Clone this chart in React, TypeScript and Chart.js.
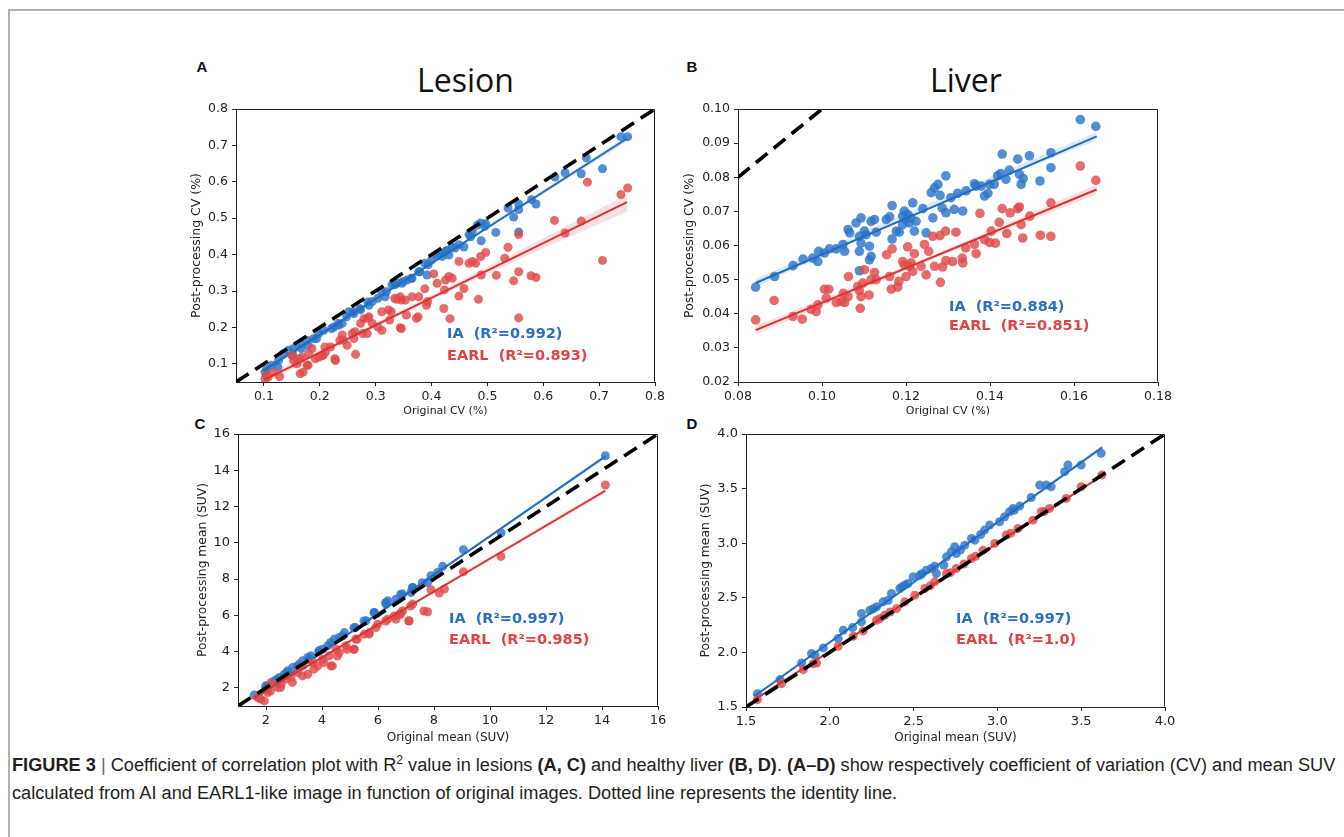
import React, { useEffect, useLayoutEffect, useRef } from 'react';
import { Chart, registerables } from 'chart.js';

Chart.register(...registerables);

type Pt = [number, number];

// ---------------- Panel A : Lesion CV ----------------
const lesionCvIA: Pt[] = [
  [0.739, 0.724], [0.751, 0.724], [0.706, 0.636], [0.677, 0.666], [0.668, 0.622], [0.639, 0.625],
  [0.621, 0.613], [0.587, 0.539], [0.579, 0.551], [0.556, 0.524], [0.556, 0.539], [0.556, 0.462],
  [0.547, 0.503], [0.537, 0.528], [0.515, 0.461], [0.495, 0.478], [0.488, 0.487], [0.489, 0.438],
  [0.473, 0.464], [0.467, 0.455], [0.458, 0.421], [0.449, 0.427], [0.437, 0.421], [0.425, 0.409],
  [0.419, 0.395], [0.431, 0.399], [0.413, 0.404], [0.392, 0.344], [0.388, 0.376], [0.377, 0.353],
  [0.365, 0.335], [0.356, 0.330], [0.347, 0.321], [0.338, 0.321], [0.329, 0.317], [0.317, 0.284],
  [0.311, 0.298], [0.294, 0.271], [0.288, 0.261], [0.273, 0.248], [0.261, 0.238], [0.252, 0.243],
  [0.240, 0.211], [0.234, 0.206], [0.225, 0.201], [0.207, 0.192], [0.198, 0.183], [0.189, 0.169],
  [0.177, 0.165], [0.165, 0.155], [0.153, 0.142], [0.144, 0.137], [0.135, 0.128], [0.126, 0.109],
  [0.114, 0.096], [0.105, 0.086], [0.102, 0.077], [0.125, 0.091], [0.152, 0.123], [0.167, 0.142],
  [0.179, 0.151], [0.194, 0.169], [0.221, 0.197], [0.233, 0.211], [0.248, 0.229], [0.260, 0.243],
  [0.272, 0.252], [0.286, 0.270], [0.304, 0.280], [0.319, 0.298], [0.334, 0.317], [0.349, 0.326],
  [0.364, 0.335], [0.379, 0.353], [0.394, 0.372], [0.400, 0.386], [0.428, 0.412], [0.442, 0.418],
  [0.470, 0.449], [0.482, 0.481], [0.497, 0.485], [0.410, 0.398],
];
const lesionCvEARL: Pt[] = [
  [0.751, 0.583], [0.739, 0.565], [0.706, 0.384], [0.679, 0.599], [0.668, 0.492], [0.639, 0.459],
  [0.620, 0.494], [0.587, 0.337], [0.578, 0.342], [0.556, 0.455], [0.556, 0.353], [0.556, 0.226],
  [0.547, 0.328], [0.537, 0.420], [0.531, 0.390], [0.516, 0.343], [0.497, 0.406], [0.489, 0.344],
  [0.484, 0.277], [0.488, 0.395], [0.479, 0.376], [0.473, 0.381], [0.467, 0.376], [0.449, 0.381],
  [0.449, 0.286], [0.458, 0.307], [0.437, 0.335], [0.431, 0.340], [0.425, 0.330], [0.423, 0.303],
  [0.422, 0.252], [0.433, 0.224], [0.410, 0.321], [0.404, 0.347], [0.393, 0.271], [0.388, 0.306],
  [0.376, 0.229], [0.377, 0.284], [0.365, 0.284], [0.353, 0.275], [0.344, 0.284], [0.338, 0.277],
  [0.344, 0.199], [0.323, 0.248], [0.311, 0.243], [0.311, 0.192], [0.294, 0.211], [0.288, 0.229],
  [0.279, 0.224], [0.273, 0.211], [0.285, 0.183], [0.264, 0.126], [0.261, 0.169], [0.258, 0.183],
  [0.249, 0.151], [0.240, 0.179], [0.236, 0.165], [0.228, 0.109], [0.219, 0.146], [0.210, 0.132],
  [0.204, 0.123], [0.198, 0.118], [0.192, 0.114], [0.186, 0.142], [0.180, 0.128], [0.177, 0.096],
  [0.165, 0.073], [0.159, 0.100], [0.153, 0.109], [0.150, 0.123], [0.168, 0.118], [0.128, 0.065],
  [0.117, 0.077], [0.105, 0.068], [0.102, 0.059], [0.107, 0.063], [0.164, 0.114], [0.170, 0.077],
  [0.179, 0.096], [0.206, 0.123], [0.209, 0.146], [0.227, 0.114], [0.242, 0.165], [0.263, 0.188],
  [0.277, 0.183], [0.286, 0.225], [0.304, 0.201], [0.325, 0.220], [0.328, 0.243], [0.346, 0.197],
  [0.355, 0.234], [0.373, 0.225], [0.391, 0.261], [0.334, 0.280], [0.346, 0.275],
];
const lesionCvFitIA: Pt[] = [[0.1, 0.082], [0.75, 0.719]];
const lesionCvFitEARL: Pt[] = [[0.1, 0.056], [0.75, 0.544]];
const lesionCvBandIALo: Pt[] = [[0.1, 0.075], [0.43, 0.402], [0.75, 0.711]];
const lesionCvBandIAHi: Pt[] = [[0.1, 0.089], [0.43, 0.409], [0.75, 0.727]];
const lesionCvBandEARLLo: Pt[] = [[0.1, 0.045], [0.3, 0.200], [0.45, 0.311], [0.6, 0.417], [0.75, 0.518]];
const lesionCvBandEARLHi: Pt[] = [[0.1, 0.067], [0.3, 0.212], [0.45, 0.327], [0.6, 0.445], [0.75, 0.566]];
const lesionCvIdentity: Pt[] = [[0.05, 0.05], [0.8, 0.8]];
const lesionCvTicks = [0.1, 0.2, 0.3, 0.4, 0.5, 0.6, 0.7, 0.8];
const lesionCvTickLabels = ['0.1', '0.2', '0.3', '0.4', '0.5', '0.6', '0.7', '0.8'];

// ---------------- Panel B : Liver CV ----------------
const liverCvIA: Pt[] = [
  [0.0842, 0.0478], [0.0887, 0.0509], [0.0931, 0.0541], [0.0955, 0.0560], [0.0978, 0.0563],
  [0.0990, 0.0553], [0.0992, 0.0583], [0.1006, 0.0578], [0.1018, 0.0590], [0.1034, 0.0590],
  [0.1050, 0.0603], [0.1054, 0.0583], [0.1062, 0.0647], [0.1066, 0.0637], [0.1081, 0.0666],
  [0.1093, 0.0681], [0.1089, 0.0627], [0.1089, 0.0583], [0.1093, 0.0607], [0.1089, 0.0526],
  [0.1101, 0.0642], [0.1105, 0.0632], [0.1113, 0.0598], [0.1113, 0.0558], [0.1117, 0.0568],
  [0.1117, 0.0671], [0.1125, 0.0676], [0.1129, 0.0639], [0.1153, 0.0676], [0.1161, 0.0684],
  [0.1167, 0.0717], [0.1167, 0.0619], [0.1177, 0.0642], [0.1184, 0.0639], [0.1192, 0.0686],
  [0.1196, 0.0701], [0.1200, 0.0676], [0.1204, 0.0691], [0.1208, 0.0666], [0.1212, 0.0681],
  [0.1216, 0.0725], [0.1220, 0.0642], [0.1224, 0.0671], [0.1192, 0.0661], [0.1240, 0.0708],
  [0.1248, 0.0637], [0.1264, 0.0681], [0.1260, 0.0755], [0.1268, 0.0769], [0.1276, 0.0779],
  [0.1281, 0.0747], [0.1286, 0.0710], [0.1295, 0.0804], [0.1295, 0.0696], [0.1307, 0.0740],
  [0.1315, 0.0706], [0.1323, 0.0753], [0.1335, 0.0701], [0.1343, 0.0760], [0.1363, 0.0781],
  [0.1367, 0.0774], [0.1379, 0.0774], [0.1387, 0.0745], [0.1395, 0.0753], [0.1399, 0.0779],
  [0.1410, 0.0779], [0.1418, 0.0804], [0.1426, 0.0811], [0.1429, 0.0868], [0.1438, 0.0794],
  [0.1446, 0.0821], [0.1466, 0.0853], [0.1470, 0.0809], [0.1474, 0.0779], [0.1479, 0.0796],
  [0.1494, 0.0863], [0.1519, 0.0789], [0.1545, 0.0872], [0.1545, 0.0828], [0.1615, 0.0969],
  [0.1652, 0.0949],
];
const liverCvEARL: Pt[] = [
  [0.0842, 0.0382], [0.0886, 0.0439], [0.0931, 0.0392], [0.0953, 0.0384], [0.0974, 0.0413],
  [0.0986, 0.0406], [0.0990, 0.0426], [0.1006, 0.0472], [0.1016, 0.0472], [0.1010, 0.0446],
  [0.1034, 0.0433], [0.1046, 0.0436], [0.1051, 0.0460], [0.1054, 0.0433], [0.1062, 0.0450],
  [0.1063, 0.0509], [0.1085, 0.0480], [0.1089, 0.0468], [0.1093, 0.0450], [0.1097, 0.0490],
  [0.1101, 0.0529], [0.1091, 0.0416], [0.1112, 0.0455], [0.1117, 0.0500], [0.1125, 0.0521],
  [0.1129, 0.0500], [0.1154, 0.0573], [0.1161, 0.0509], [0.1165, 0.0472], [0.1167, 0.0590],
  [0.1180, 0.0478], [0.1183, 0.0495], [0.1192, 0.0553], [0.1196, 0.0543], [0.1200, 0.0509],
  [0.1204, 0.0596], [0.1208, 0.0539], [0.1212, 0.0549], [0.1216, 0.0524], [0.1220, 0.0576],
  [0.1236, 0.0539], [0.1244, 0.0603], [0.1248, 0.0514], [0.1254, 0.0583], [0.1264, 0.0627],
  [0.1268, 0.0539], [0.1281, 0.0629], [0.1282, 0.0492], [0.1287, 0.0537], [0.1294, 0.0642],
  [0.1295, 0.0556], [0.1311, 0.0553], [0.1319, 0.0639], [0.1334, 0.0563], [0.1335, 0.0549],
  [0.1342, 0.0593], [0.1363, 0.0603], [0.1367, 0.0576], [0.1376, 0.0694], [0.1387, 0.0617],
  [0.1399, 0.0609], [0.1403, 0.0642], [0.1413, 0.0607], [0.1422, 0.0668], [0.1429, 0.0708],
  [0.1440, 0.0635], [0.1448, 0.0696], [0.1466, 0.0708], [0.1470, 0.0713], [0.1474, 0.0661],
  [0.1478, 0.0622], [0.1495, 0.0686], [0.1520, 0.0630], [0.1545, 0.0627], [0.1545, 0.0725],
  [0.1615, 0.0833], [0.1652, 0.0791],
];
const liverCvFitIA: Pt[] = [[0.0842, 0.0490], [0.1654, 0.0920]];
const liverCvFitEARL: Pt[] = [[0.0842, 0.0352], [0.1654, 0.0764]];
const liverCvBandIALo: Pt[] = [[0.0842, 0.0478], [0.124, 0.0706], [0.1654, 0.0908]];
const liverCvBandIAHi: Pt[] = [[0.0842, 0.0502], [0.124, 0.0716], [0.1654, 0.0932]];
const liverCvBandEARLLo: Pt[] = [[0.0842, 0.0339], [0.124, 0.0549], [0.1654, 0.0750]];
const liverCvBandEARLHi: Pt[] = [[0.0842, 0.0365], [0.124, 0.0559], [0.1654, 0.0779]];
const liverCvIdentity: Pt[] = [[0.08, 0.08], [0.1, 0.1]];
const liverCvXTicks = [0.08, 0.10, 0.12, 0.14, 0.16, 0.18];
const liverCvXTickLabels = ['0.08', '0.10', '0.12', '0.14', '0.16', '0.18'];
const liverCvYTicks = [0.02, 0.03, 0.04, 0.05, 0.06, 0.07, 0.08, 0.09, 0.10];
const liverCvYTickLabels = ['0.02', '0.03', '0.04', '0.05', '0.06', '0.07', '0.08', '0.09', '0.10'];

// ---------------- Panel C : Lesion mean SUV ----------------
const lesionMeanIA: Pt[] = [
  [14.12, 14.80], [9.05, 9.62], [8.31, 8.70], [8.13, 8.37], [7.89, 8.18], [7.77, 7.81],
  [7.24, 7.54], [7.18, 7.26], [6.88, 7.17], [6.64, 6.89], [6.35, 6.80], [6.29, 6.62],
  [5.87, 6.16], [5.57, 5.70], [5.19, 5.33], [4.80, 5.05], [4.62, 4.78], [4.44, 4.69],
  [4.20, 4.32], [4.02, 4.13], [3.90, 4.04], [3.61, 3.77], [3.49, 3.68], [3.31, 3.49],
  [3.19, 3.31], [2.95, 3.12], [2.77, 2.94], [2.65, 2.75], [2.48, 2.57], [2.30, 2.39],
  [2.06, 2.11], [1.98, 1.93], [1.58, 1.60], [1.99, 2.11], [2.40, 2.48], [2.76, 2.85],
  [3.12, 3.21], [3.54, 3.58], [3.89, 4.04], [4.31, 4.50], [4.73, 4.86], [5.14, 5.32],
  [5.50, 5.69], [5.86, 6.15], [6.27, 6.70], [6.81, 7.16], [7.23, 7.53], [7.58, 7.80],
  [10.40, 10.55],
];
const lesionMeanEARL: Pt[] = [
  [14.12, 13.19], [10.39, 9.25], [9.05, 8.40], [8.37, 7.45], [8.19, 7.23], [7.89, 7.41],
  [7.77, 6.20], [7.24, 6.62], [7.10, 5.70], [6.88, 6.25], [6.76, 6.07], [6.64, 5.79],
  [6.35, 5.79], [5.99, 5.51], [5.69, 5.05], [5.51, 4.96], [5.21, 4.69], [5.15, 4.13],
  [4.86, 4.32], [4.62, 3.95], [4.50, 4.13], [4.32, 3.21], [4.26, 3.77], [4.02, 3.58],
  [3.85, 3.21], [3.67, 3.40], [3.49, 2.75], [3.31, 3.21], [3.13, 2.85], [2.89, 2.57],
  [2.71, 2.48], [2.54, 2.20], [2.42, 2.02], [2.18, 2.30], [2.06, 1.74], [1.94, 1.28],
  [1.70, 1.47], [1.81, 1.38], [2.16, 1.83], [2.52, 2.02], [2.94, 2.30], [3.30, 2.66],
  [3.71, 3.03], [4.07, 3.40], [4.37, 3.21], [4.55, 3.76], [4.90, 4.13], [5.14, 4.13],
  [5.26, 4.68], [5.68, 4.96], [5.92, 5.32], [6.27, 5.69], [6.57, 5.96], [6.81, 6.06],
  [7.11, 5.69], [7.16, 6.51], [7.64, 6.24],
];
const lesionMeanFitIA: Pt[] = [[1.58, 1.38], [14.12, 14.77]];
const lesionMeanFitEARL: Pt[] = [[1.58, 1.47], [14.12, 12.87]];
const lesionMeanBandIALo: Pt[] = [[1.58, 1.32], [6, 6.08], [14.12, 14.67]];
const lesionMeanBandIAHi: Pt[] = [[1.58, 1.44], [6, 6.14], [14.12, 14.87]];
const lesionMeanBandEARLLo: Pt[] = [[1.58, 1.40], [6, 5.48], [14.12, 12.73]];
const lesionMeanBandEARLHi: Pt[] = [[1.58, 1.54], [6, 5.56], [14.12, 13.01]];
const lesionMeanIdentity: Pt[] = [[1, 1], [16, 16]];
const lesionMeanTicks = [2, 4, 6, 8, 10, 12, 14, 16];
const lesionMeanTickLabels = ['2', '4', '6', '8', '10', '12', '14', '16'];

// ---------------- Panel D : Liver mean SUV ----------------
const liverMeanIA: Pt[] = [
  [1.568, 1.622], [1.703, 1.751], [1.832, 1.903], [1.891, 1.989], [1.911, 1.974], [1.961, 2.041],
  [2.050, 2.127], [2.080, 2.203], [2.136, 2.227], [2.189, 2.356], [2.189, 2.279], [2.239, 2.386],
  [2.279, 2.417], [2.318, 2.463], [2.348, 2.478], [2.368, 2.539], [2.418, 2.585], [2.447, 2.616],
  [2.467, 2.631], [2.497, 2.692], [2.537, 2.707], [2.576, 2.753], [2.606, 2.768], [2.626, 2.790],
  [2.636, 2.722], [2.696, 2.875], [2.725, 2.921], [2.745, 2.967], [2.755, 2.906], [2.805, 2.982],
  [2.845, 3.043], [2.865, 3.028], [2.924, 3.120], [2.954, 3.166], [3.013, 3.196], [3.043, 3.242],
  [3.073, 3.288], [3.093, 3.318], [3.133, 3.340], [3.202, 3.419], [3.252, 3.532], [3.292, 3.532],
  [3.321, 3.517], [3.401, 3.655], [3.421, 3.716], [3.500, 3.716], [3.619, 3.823], [2.26, 2.40],
  [2.43, 2.60], [2.55, 2.72], [2.68, 2.80], [2.78, 2.94], [2.90, 3.08], [3.10, 3.30],
];
const liverMeanEARL: Pt[] = [
  [1.568, 1.567], [1.712, 1.714], [1.842, 1.842], [1.901, 1.897], [1.921, 1.903], [2.050, 2.056],
  [2.140, 2.148], [2.199, 2.197], [2.279, 2.295], [2.328, 2.340], [2.398, 2.401], [2.447, 2.463],
  [2.507, 2.524], [2.567, 2.585], [2.626, 2.646], [2.696, 2.722], [2.755, 2.768], [2.845, 2.860],
  [2.914, 2.936], [2.984, 2.998], [3.053, 3.074], [3.123, 3.135], [3.212, 3.211], [3.262, 3.288],
  [3.311, 3.318], [3.411, 3.410], [3.500, 3.517], [3.623, 3.624], [2.30, 2.31], [2.36, 2.37],
  [2.60, 2.61], [2.72, 2.73], [2.80, 2.81], [2.87, 2.88], [3.08, 3.09], [3.28, 3.29],
];
const liverMeanFitIA: Pt[] = [[1.55, 1.598], [3.625, 3.878]];
const liverMeanFitEARL: Pt[] = [[1.55, 1.565], [3.63, 3.624]];
const liverMeanBandIALo: Pt[] = [[1.55, 1.585], [2.6, 2.748], [3.625, 3.862]];
const liverMeanBandIAHi: Pt[] = [[1.55, 1.611], [2.6, 2.756], [3.625, 3.894]];
const liverMeanBandEARLLo: Pt[] = [[1.55, 1.560], [2.6, 2.604], [3.63, 3.618]];
const liverMeanBandEARLHi: Pt[] = [[1.55, 1.570], [2.6, 2.608], [3.63, 3.630]];
const liverMeanIdentity: Pt[] = [[1.5, 1.5], [4, 4]];
const liverMeanTicks = [1.5, 2.0, 2.5, 3.0, 3.5, 4.0];
const liverMeanTickLabels = ['1.5', '2.0', '2.5', '3.0', '3.5', '4.0'];

// ---------------- styling ----------------
const BLUE_PT = 'rgba(44,117,201,0.82)';
const RED_PT = 'rgba(224,74,74,0.82)';
const BLUE_LINE = '#1f6cc0';
const RED_LINE = '#dc3232';
const BLUE_BAND = 'rgba(60,130,210,0.18)';
const RED_BAND = 'rgba(230,90,90,0.18)';
const BLUE_TEXT = '#2b6fc0';
const RED_TEXT = '#e04343';
const AXIS = '#222';

interface PanelSpec {
  left: number; top: number; w: number; h: number;
  pad: { top: number; right: number; bottom: number; left: number };
  yAxisW: number; xAxisH: number;
  xMin: number; xMax: number; yMin: number; yMax: number;
  xTicks: number[]; xLabels: string[]; yTicks: number[]; yLabels: string[];
  xTitle: string; yTitle: string; xTitleSize: number; yTitleSize: number; tickSize: number;
  yTitlePad: number; xTitlePad: number;
  ia: Pt[]; earl: Pt[]; fitIA: Pt[]; fitEARL: Pt[];
  bandIALo: Pt[]; bandIAHi: Pt[]; bandEARLLo: Pt[]; bandEARLHi: Pt[];
  identity: Pt[]; radius: number;
}

const toXY = (a: Pt[]) => a.map(([x, y]) => ({ x, y }));

const framePlugin = {
  id: 'frameBox',
  afterDraw(chart: any) {
    const { ctx, chartArea } = chart;
    const l = Math.round(chartArea.left) + 0.5;
    const t = Math.round(chartArea.top) + 0.5;
    const r = Math.round(chartArea.right) - 0.5;
    const b = Math.round(chartArea.bottom) - 0.5;
    ctx.save();
    ctx.strokeStyle = AXIS;
    ctx.lineWidth = 1;
    ctx.beginPath();
    ctx.moveTo(l, t);
    ctx.lineTo(r, t);
    ctx.lineTo(r, b);
    ctx.stroke();
    ctx.restore();
  },
};

function Panel({ s }: { s: PanelSpec }) {
  const ref = useRef<HTMLCanvasElement>(null);
  useEffect(() => {
    const lineDs = (data: Pt[], color: string, order: number, width = 2) => ({
      type: 'line' as const, data: toXY(data), borderColor: color, borderWidth: width,
      pointRadius: 0, fill: false, order, tension: 0,
    });
    const bandDs = (lo: Pt[], hi: Pt[], color: string, order: number) => [
      { type: 'line' as const, data: toXY(lo), borderColor: 'rgba(0,0,0,0)', borderWidth: 0, pointRadius: 0, fill: false, order },
      { type: 'line' as const, data: toXY(hi), borderColor: 'rgba(0,0,0,0)', borderWidth: 0, pointRadius: 0, fill: '-1', backgroundColor: color, order },
    ];
    const tickFont = { family: 'DejaVu Sans', size: s.tickSize };
    const chart = new Chart(ref.current as HTMLCanvasElement, {
      type: 'scatter',
      data: {
        datasets: [
          {
            type: 'scatter', data: toXY(s.ia), backgroundColor: BLUE_PT, borderColor: BLUE_PT,
            borderWidth: 0, pointRadius: s.radius, order: 9,
          } as any,
          ...bandDs(s.bandIALo, s.bandIAHi, BLUE_BAND, 8),
          lineDs(s.fitIA, BLUE_LINE, 7),
          {
            type: 'scatter', data: toXY(s.earl), backgroundColor: RED_PT, borderColor: RED_PT,
            borderWidth: 0, pointRadius: s.radius, order: 6,
          } as any,
          ...bandDs(s.bandEARLLo, s.bandEARLHi, RED_BAND, 5),
          lineDs(s.fitEARL, RED_LINE, 4),
          {
            type: 'line', data: toXY(s.identity), borderColor: '#000', borderWidth: 3.6,
            borderDash: [15, 8], pointRadius: 0, fill: false, order: 1,
          } as any,
        ],
      },
      options: {
        animation: false,
        responsive: false,
        maintainAspectRatio: false,
        layout: { padding: s.pad },
        plugins: { legend: { display: false }, tooltip: { enabled: false } },
        scales: {
          x: {
            type: 'linear', position: 'bottom', min: s.xMin, max: s.xMax,
            afterBuildTicks: (axis: any) => { axis.ticks = s.xTicks.map((v) => ({ value: v })); },
            afterFit: (scale: any) => { scale.height = s.xAxisH; },
            ticks: {
              callback: (_v: any, i: number) => s.xLabels[i], color: AXIS, font: tickFont,
              padding: 3, maxRotation: 0, autoSkip: false,
            },
            grid: { display: true, drawOnChartArea: false, drawTicks: true, tickLength: 4, color: AXIS, lineWidth: 1 },
            border: { display: true, color: AXIS, width: 1 },
            title: {
              display: true, text: s.xTitle, color: AXIS,
              font: { family: 'DejaVu Sans', size: s.xTitleSize }, padding: { top: 0, bottom: s.xTitlePad },
            },
          },
          y: {
            type: 'linear', position: 'left', min: s.yMin, max: s.yMax,
            afterBuildTicks: (axis: any) => { axis.ticks = s.yTicks.map((v) => ({ value: v })); },
            afterFit: (scale: any) => { scale.width = s.yAxisW; },
            ticks: {
              callback: (_v: any, i: number) => s.yLabels[i], color: AXIS, font: tickFont,
              padding: 4, autoSkip: false,
            },
            grid: { display: true, drawOnChartArea: false, drawTicks: true, tickLength: 4, color: AXIS, lineWidth: 1 },
            border: { display: true, color: AXIS, width: 1 },
            title: {
              display: true, text: s.yTitle, color: AXIS,
              font: { family: 'DejaVu Sans', size: s.yTitleSize }, padding: { top: s.yTitlePad, bottom: 0 },
            },
          },
        },
      } as any,
      plugins: [framePlugin],
    });
    return () => chart.destroy();
  }, [s]);
  return (
    <canvas
      ref={ref}
      width={s.w}
      height={s.h}
      style={{ position: 'absolute', left: s.left, top: s.top, width: s.w, height: s.h }}
    />
  );
}

const panelA: PanelSpec = {
  left: 170, top: 95, w: 500, h: 330, pad: { top: 14, right: 15, bottom: 3, left: 0 },
  yAxisW: 66, xAxisH: 40, xMin: 0.05, xMax: 0.8, yMin: 0.05, yMax: 0.8,
  xTicks: lesionCvTicks, xLabels: lesionCvTickLabels, yTicks: lesionCvTicks, yLabels: lesionCvTickLabels,
  xTitle: 'Original CV (%)', yTitle: 'Post-processing CV (%)', xTitleSize: 11, yTitleSize: 12.5, tickSize: 12.5,
  yTitlePad: 19, xTitlePad: 4.5,
  ia: lesionCvIA, earl: lesionCvEARL, fitIA: lesionCvFitIA, fitEARL: lesionCvFitEARL,
  bandIALo: lesionCvBandIALo, bandIAHi: lesionCvBandIAHi, bandEARLLo: lesionCvBandEARLLo, bandEARLHi: lesionCvBandEARLHi,
  identity: lesionCvIdentity, radius: 4.5,
};
const panelB: PanelSpec = {
  left: 660, top: 95, w: 520, h: 330, pad: { top: 14, right: 22, bottom: 3, left: 0 },
  yAxisW: 78, xAxisH: 40, xMin: 0.08, xMax: 0.18, yMin: 0.02, yMax: 0.10,
  xTicks: liverCvXTicks, xLabels: liverCvXTickLabels, yTicks: liverCvYTicks, yLabels: liverCvYTickLabels,
  xTitle: 'Original CV (%)', yTitle: 'Post-processing CV (%)', xTitleSize: 11, yTitleSize: 12.5, tickSize: 12.5,
  yTitlePad: 22.5, xTitlePad: 4.5,
  ia: liverCvIA, earl: liverCvEARL, fitIA: liverCvFitIA, fitEARL: liverCvFitEARL,
  bandIALo: liverCvBandIALo, bandIAHi: liverCvBandIAHi, bandEARLLo: liverCvBandEARLLo, bandEARLHi: liverCvBandEARLHi,
  identity: liverCvIdentity, radius: 4.8,
};
const panelC: PanelSpec = {
  left: 170, top: 420, w: 500, h: 330, pad: { top: 14, right: 12, bottom: 4, left: 0 },
  yAxisW: 68, xAxisH: 40, xMin: 1, xMax: 16, yMin: 1, yMax: 16,
  xTicks: lesionMeanTicks, xLabels: lesionMeanTickLabels, yTicks: lesionMeanTicks, yLabels: lesionMeanTickLabels,
  xTitle: 'Original mean (SUV)', yTitle: 'Post-processing mean (SUV)', xTitleSize: 12, yTitleSize: 12.3, tickSize: 13,
  yTitlePad: 25, xTitlePad: 1,
  ia: lesionMeanIA, earl: lesionMeanEARL, fitIA: lesionMeanFitIA, fitEARL: lesionMeanFitEARL,
  bandIALo: lesionMeanBandIALo, bandIAHi: lesionMeanBandIAHi, bandEARLLo: lesionMeanBandEARLLo, bandEARLHi: lesionMeanBandEARLHi,
  identity: lesionMeanIdentity, radius: 4.5,
};
const panelD: PanelSpec = {
  left: 680, top: 420, w: 500, h: 330, pad: { top: 14, right: 15, bottom: 3, left: 0 },
  yAxisW: 66, xAxisH: 40, xMin: 1.5, xMax: 4.0, yMin: 1.5, yMax: 4.0,
  xTicks: liverMeanTicks, xLabels: liverMeanTickLabels, yTicks: liverMeanTicks, yLabels: liverMeanTickLabels,
  xTitle: 'Original mean (SUV)', yTitle: 'Post-processing mean (SUV)', xTitleSize: 12, yTitleSize: 12.3, tickSize: 13,
  yTitlePad: 18.5, xTitlePad: 2,
  ia: liverMeanIA, earl: liverMeanEARL, fitIA: liverMeanFitIA, fitEARL: liverMeanFitEARL,
  bandIALo: liverMeanBandIALo, bandIAHi: liverMeanBandIAHi, bandEARLLo: liverMeanBandEARLLo, bandEARLHi: liverMeanBandEARLHi,
  identity: liverMeanIdentity, radius: 4.5,
};

const annotations = [
  { x: 447, y: 333, text: 'IA  (R²=0.992)', color: BLUE_TEXT },
  { x: 447, y: 355, text: 'EARL  (R²=0.893)', color: RED_TEXT },
  { x: 949, y: 306, text: 'IA  (R²=0.884)', color: BLUE_TEXT },
  { x: 949, y: 325, text: 'EARL  (R²=0.851)', color: RED_TEXT },
  { x: 449, y: 618, text: 'IA  (R²=0.997)', color: BLUE_TEXT },
  { x: 449, y: 639, text: 'EARL  (R²=0.985)', color: RED_TEXT },
  { x: 956, y: 618, text: 'IA  (R²=0.997)', color: BLUE_TEXT },
  { x: 956, y: 639, text: 'EARL  (R²=1.0)', color: RED_TEXT },
];

const panelLetters = [
  { x: 202, y: 67, t: 'A' },
  { x: 692, y: 67, t: 'B' },
  { x: 200, y: 424, t: 'C' },
  { x: 692, y: 424, t: 'D' },
];

function Caption() {
  const ref = useRef<HTMLDivElement>(null);
  const line1 = useRef<HTMLDivElement>(null);
  useLayoutEffect(() => {
    if (ref.current && line1.current) {
      const w = line1.current.scrollWidth;
      const f = w > 0 ? 1323 / w : 1;
      ref.current.style.transform = `scaleX(${f})`;
    }
  }, []);
  const bold: React.CSSProperties = { fontWeight: 700 };
  return (
    <div
      ref={ref}
      style={{
        position: 'absolute', left: 12, top: 751, transformOrigin: '0 0',
        fontFamily: '"Liberation Sans Narrow", "Liberation Sans", Arial, sans-serif',
        fontSize: 18, lineHeight: '28px', color: '#231f20', whiteSpace: 'nowrap',
      }}
    >
      <div ref={line1} style={{ display: 'inline-block' }}>
        <span style={bold}>FIGURE 3</span> <span style={{ color: '#666' }}>|</span> Coefficient of correlation plot with R
        <sup style={{ fontSize: 12, verticalAlign: 'top', lineHeight: '18px' }}>2</sup> value in lesions{' '}
        <span style={bold}>(A, C)</span> and healthy liver <span style={bold}>(B, D)</span>.{' '}
        <span style={bold}>(A–D)</span> show respectively coefficient of variation (CV) and mean SUV
      </div>
      <div>
        calculated from AI and EARL1-like image in function of original images. Dotted line represents the identity line.
      </div>
    </div>
  );
}

export default function App() {
  return (
    <div
      style={{
        position: 'absolute', left: 0, top: 0, width: 1344, height: 837, overflow: 'hidden',
        background: '#fff',
      }}
    >
      <div
        style={{
          position: 'absolute', left: 8, top: 9, right: -2, bottom: -2,
          borderTop: '2px solid #b0b0b0', borderLeft: '2px solid #b0b0b0',
        }}
      />
      {panelLetters.map((p) => (
        <div
          key={p.t}
          style={{
            position: 'absolute', left: p.x - 10, top: p.y - 10, width: 20, height: 20,
            lineHeight: '20px', textAlign: 'center', fontFamily: '"Liberation Sans", Arial, sans-serif',
            fontWeight: 700, fontSize: 15, color: '#111',
          }}
        >
          {p.t}
        </div>
      ))}
      <div style={{ position: 'absolute', left: 417, top: 58, fontFamily: '"Open Sans", sans-serif', fontSize: 32, color: '#111' }}>
        Lesion
      </div>
      <div style={{ position: 'absolute', left: 930, top: 58, fontFamily: '"Open Sans", sans-serif', fontSize: 32, color: '#111' }}>
        Liver
      </div>
      <Panel s={panelA} />
      <Panel s={panelB} />
      <Panel s={panelC} />
      <Panel s={panelD} />
      {annotations.map((a, i) => (
        <div
          key={i}
          style={{
            position: 'absolute', left: a.x, top: a.y - 10, height: 20, lineHeight: '20px',
            fontFamily: '"DejaVu Sans", sans-serif', fontWeight: 700, fontSize: 14.5, color: a.color,
            whiteSpace: 'pre',
          }}
        >
          {a.text}
        </div>
      ))}
      <Caption />
    </div>
  );
}
